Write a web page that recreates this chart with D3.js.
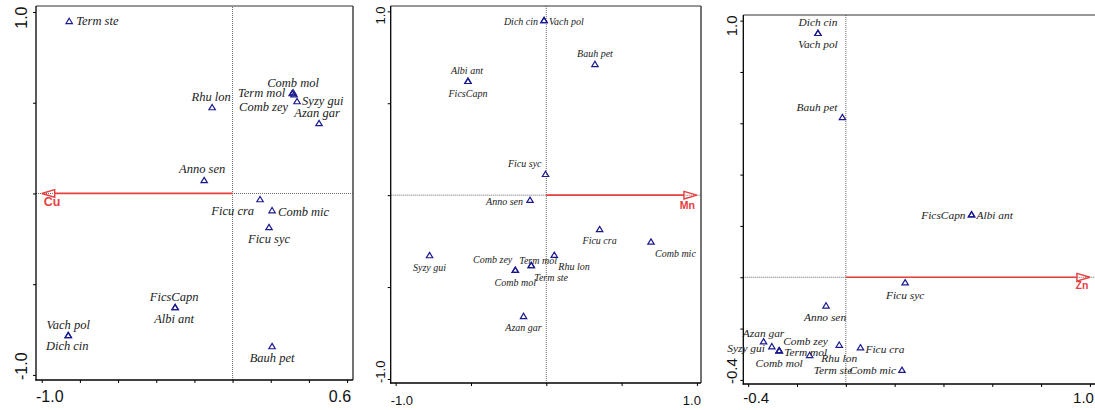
<!DOCTYPE html>
<html><head><meta charset="utf-8">
<script src="https://cdn.jsdelivr.net/npm/d3@7"></script>
<style>html,body{margin:0;padding:0;background:#fff;overflow:hidden}svg{display:block}</style>
</head><body>
<svg id="c" width="1095" height="410"></svg>
<script>
// ---------- Panel 1 : Cu ----------
const p1Species = ["Term ste","Rhu lon","Comb mol","Term mol","Comb zey","Syzy gui","Azan gar","Anno sen","Ficu cra","Comb mic","Ficu syc","FicsCapn","Albi ant","Vach pol","Dich cin","Bauh pet"];
const p1X = [-0.856,-0.107,0.317,0.312,0.322,0.338,0.453,-0.149,0.144,0.207,0.191,-0.301,-0.301,-0.861,-0.861,0.207];
const p1Y = [0.949,0.474,0.556,0.551,0.545,0.507,0.386,0.072,-0.033,-0.094,-0.187,-0.628,-0.628,-0.782,-0.782,-0.843];
const p1Env = "Cu";
const p1Arrow = [-1.0, 0];
const p1XDomain = [-1.03, 0.631];
const p1YDomain = [-1.028, 1.033];
const p1XTicks = [-1.0,-0.8,-0.6,-0.4,-0.2,0,0.2,0.4,0.6];
const p1YTicks = [-1.0,-0.5,0,0.5,1.0];
const p1XTickLabels = ["-1.0","0.6"];
const p1YTickLabels = ["-1.0","1.0"];

// ---------- Panel 2 : Mn ----------
const p2Species = ["Dich cin","Vach pol","Bauh pet","Albi ant","FicsCapn","Ficu syc","Anno sen","Ficu cra","Comb mic","Syzy gui","Rhu lon","Term mol","Term ste","Comb zey","Comb mol","Azan gar"];
const p2X = [-0.015,-0.015,0.323,-0.520,-0.520,-0.005,-0.108,0.354,0.695,-0.775,0.053,-0.100,-0.100,-0.206,-0.206,-0.151];
const p2Y = [0.951,0.951,0.712,0.620,0.620,0.114,-0.027,-0.186,-0.254,-0.328,-0.326,-0.382,-0.382,-0.408,-0.408,-0.659];
const p2Env = "Mn";
const p2Arrow = [1.0, 0];
const p2XDomain = [-1.033, 1.027];
const p2YDomain = [-1.022, 1.029];
const p2XTicks = [-1.0,-0.5,0,0.5,1.0];
const p2YTicks = [-1.0,-0.5,0,0.5,1.0];
const p2XTickLabels = ["-1.0","1.0"];
const p2YTickLabels = ["-1.0","1.0"];

// ---------- Panel 3 : Zn ----------
const p3Species = ["Dich cin","Vach pol","Bauh pet","FicsCapn","Albi ant","Ficu syc","Anno sen","Azan gar","Syzy gui","Term mol","Comb mol","Comb zey","Term ste","Rhu lon","Ficu cra","Comb mic"];
const p3X = [-0.114,-0.114,-0.014,0.515,0.515,0.243,-0.081,-0.337,-0.303,-0.273,-0.273,-0.273,-0.148,-0.027,0.060,0.230];
const p3Y = [0.951,0.951,0.623,0.244,0.244,-0.021,-0.111,-0.251,-0.270,-0.286,-0.286,-0.286,-0.304,-0.264,-0.274,-0.362];
const p3Env = "Zn";
const p3Arrow = [1.0, 0];
const p3XDomain = [-0.42, 1.029];
const p3YDomain = [-0.416, 1.022];
const p3XTicks = [-0.4,-0.2,0,0.2,0.4,0.6,0.8,1.0];
const p3YTicks = [-0.4,-0.2,0,0.2,0.4,0.6,0.8,1.0];
const p3XTickLabels = ["-0.4","1.0"];
const p3YTickLabels = ["-0.4","1.0"];

// ---------- layout (label placement relative to each point) ----------
const p1LabelPos = [["start",7,4],["middle",-1,-6],["middle",0,-6],["end",-7,4],["end",-6,16],["start",5,4],["middle",-2,-6],["middle",-2,-7],["end",-6,16],["start",6,5],["middle",0,16],["middle",-1,-6],["middle",-1,16],["middle",0,-6],["middle",-1,15],["middle",0,16]];
const p2LabelPos = [["end",-6,5],["start",5,5],["middle",0,-7],["middle",-1,-7],["middle",0,16],["end",-4,-7],["end",-7,5],["middle",0,15],["start",4,15],["middle",0,16],["start",4,15],["start",-12,-1],["start",3,16],["end",-3,-7],["middle",0,16],["middle",0,15]];
const p3LabelPos = [["middle",0,-7],["middle",0,15],["end",-5,-6],["end",-6,4],["start",5,4],["middle",0,16],["middle",-1,15],["middle",0,-5],["end",-7,5],["start",5,5],["middle",0,16],["start",4,-6],["start",4,19],["middle",0,17],["start",5,5],["end",-6,4]];

const panels = [
  {sp:p1Species, xs:p1X, ys:p1Y, env:p1Env, arrow:p1Arrow, xd:p1XDomain, yd:p1YDomain, xt:p1XTicks, yt:p1YTicks, xl:p1XTickLabels, yl:p1YTickLabels, lab:p1LabelPos,
   box:[36,353,6,380], lf:12.5, tf:16, ef:12.5, envPos:["start",2,13], xlOff:21.7, ylOff:9},
  {sp:p2Species, xs:p2X, ys:p2Y, env:p2Env, arrow:p2Arrow, xd:p2XDomain, yd:p2YDomain, xt:p2XTicks, yt:p2YTicks, xl:p2XTickLabels, yl:p2YTickLabels, lab:p2LabelPos,
   box:[390.7,701,6,383], lf:10, tf:13, ef:10.5, envPos:["end",-2,14], xlOff:21.5, ylOff:5.7},
  {sp:p3Species, xs:p3X, ys:p3Y, env:p3Env, arrow:p3Arrow, xd:p3XDomain, yd:p3YDomain, xt:p3XTicks, yt:p3YTicks, xl:p3XTickLabels, yl:p3YTickLabels, lab:p3LabelPos,
   box:[743.3,1097,15,384], lf:11.4, tf:15, ef:10.5, envPos:["end",-1.5,12], xlOff:18.7, ylOff:6.3}
];

const svg = d3.select("#c");
const RED = "#e8403f", NAVY = "#1a1a8e";

panels.forEach(P => {
  const [L,R,T,B] = P.box;
  const x = d3.scaleLinear().domain(P.xd).range([L,R]);
  const y = d3.scaleLinear().domain(P.yd).range([B,T]);
  const g = svg.append("g");

  // zero lines (dotted)
  g.append("line").attr("x1",x(P.xd[0])).attr("x2",x(P.xd[1])).attr("y1",y(0)).attr("y2",y(0))
    .attr("stroke","#555").attr("stroke-width",0.9).attr("stroke-dasharray","1,1");
  g.append("line").attr("x1",x(0)).attr("x2",x(0)).attr("y1",y(P.yd[0])).attr("y2",y(P.yd[1]))
    .attr("stroke","#555").attr("stroke-width",0.9).attr("stroke-dasharray","1,1");

  // frame
  g.append("line").attr("x1",L).attr("x2",R).attr("y1",T).attr("y2",T).attr("stroke","#333").attr("stroke-width",1.1);
  g.append("line").attr("x1",R).attr("x2",R).attr("y1",T).attr("y2",B).attr("stroke","#444").attr("stroke-width",1.5);
  g.append("line").attr("x1",L).attr("x2",L).attr("y1",T).attr("y2",B+0.6).attr("stroke","#000").attr("stroke-width",1.3);
  g.append("line").attr("x1",L-0.6).attr("x2",R).attr("y1",B).attr("y2",B).attr("stroke","#000").attr("stroke-width",1.3);

  // axes ticks
  const ax = g.append("g").attr("transform",`translate(0,${B})`)
    .call(d3.axisBottom(x).tickValues(P.xt).tickSize(3).tickFormat(""));
  ax.select(".domain").remove();
  ax.selectAll("line").attr("stroke","#000").attr("stroke-width",1);
  const ay = g.append("g").attr("transform",`translate(${L},0)`)
    .call(d3.axisLeft(y).tickValues(P.yt).tickSize(3).tickFormat(""));
  ay.select(".domain").remove();
  ay.selectAll("line").attr("stroke","#000").attr("stroke-width",1);

  // tick labels (end ticks only)
  const tfam = "Liberation Sans, Arial, sans-serif";
  const lastX = P.xt[P.xt.length-1];
  g.append("text").attr("x",L).attr("y",B+P.xlOff).attr("text-anchor","start")
    .attr("font-family",tfam).attr("font-size",P.tf).attr("fill","#111").text(P.xl[0]);
  g.append("text").attr("x",x(lastX)+4).attr("y",B+P.xlOff).attr("text-anchor","end")
    .attr("font-family",tfam).attr("font-size",P.tf).attr("fill","#111").text(P.xl[1]);
  g.append("text").attr("transform",`translate(${L-P.ylOff},${B}) rotate(-90)`).attr("text-anchor","start")
    .attr("font-family",tfam).attr("font-size",P.tf).attr("fill","#111").text(P.yl[0]);
  g.append("text").attr("transform",`translate(${L-P.ylOff},${T+0.5}) rotate(-90)`).attr("text-anchor","end")
    .attr("font-family",tfam).attr("font-size",P.tf).attr("fill","#111").text(P.yl[1]);

  // environmental arrow
  const x0 = x(0), y0 = y(0), x1 = x(P.arrow[0]), y1 = y(P.arrow[1]);
  const dir = Math.sign(x1 - x0), head = 13, hw = 3.8;
  g.append("line").attr("x1",x0).attr("y1",y0).attr("x2",x1 - dir*head).attr("y2",y1)
    .attr("stroke",RED).attr("stroke-width",1.7);
  g.append("path")
    .attr("d",d3.line()([[x1,y1],[x1-dir*head,y1-hw],[x1-dir*head,y1+hw],[x1,y1]]))
    .attr("fill","none").attr("stroke",RED).attr("stroke-width",1.4).attr("stroke-linejoin","miter");
  g.append("text").attr("x",x1+P.envPos[1]).attr("y",y1+P.envPos[2]).attr("text-anchor",P.envPos[0])
    .attr("font-family",tfam).attr("font-weight","bold").attr("font-size",P.ef).attr("fill",RED).text(P.env);

  // species
  const data = P.sp.map((s,i)=>({s, x:P.xs[i], y:P.ys[i], lab:P.lab[i]}));
  g.selectAll("path.pt").data(data).enter().append("path").attr("class","pt")
    .attr("transform",d=>`translate(${x(d.x)},${y(d.y)})`)
    .attr("d","M0,-3L3.2,2.3L-3.2,2.3Z")
    .attr("fill","none").attr("stroke",NAVY).attr("stroke-width",1.2);
  g.selectAll("text.sp").data(data).enter().append("text").attr("class","sp")
    .attr("x",d=>x(d.x)+d.lab[1]).attr("y",d=>y(d.y)+d.lab[2]).attr("text-anchor",d=>d.lab[0])
    .attr("font-family","Liberation Serif, Times New Roman, serif").attr("font-style","italic")
    .attr("font-size",P.lf).attr("fill","#1a1a1a").text(d=>d.s);
});
</script>
</body></html>
